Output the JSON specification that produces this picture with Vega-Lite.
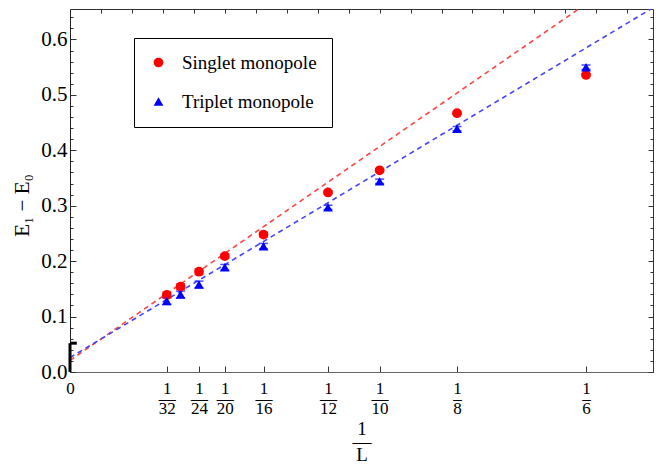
{
  "$schema": "https://vega.github.io/schema/vega-lite/v6.json",
  "width": 583,
  "height": 363,
  "autosize": {"type": "none"},
  "padding": {"left": 70, "top": 9, "right": 3, "bottom": 98},
  "background": "white",
  "config": {
    "font": "Liberation Serif",
    "view": {"stroke": null},
    "axis": {"grid": false, "labelFont": "Liberation Serif", "titleFont": "Liberation Serif", "labelColor": "black", "titleColor": "black", "titleFontWeight": "normal", "domainColor": "#555555", "tickColor": "#333333"},
    "legend": {"labelFont": "Liberation Serif"}
  },
  "datasets": {
    "pts": [
      {"invL": 0.03125, "gap": 0.139, "err": 0.005, "series": "Singlet monopole"},
      {"invL": 0.035714, "gap": 0.154, "err": 0.005, "series": "Singlet monopole"},
      {"invL": 0.041667, "gap": 0.181, "err": 0.005, "series": "Singlet monopole"},
      {"invL": 0.05, "gap": 0.209, "err": 0.004, "series": "Singlet monopole"},
      {"invL": 0.0625, "gap": 0.248, "err": 0.004, "series": "Singlet monopole"},
      {"invL": 0.083333, "gap": 0.324, "err": 0.003, "series": "Singlet monopole"},
      {"invL": 0.1, "gap": 0.364, "err": 0.003, "series": "Singlet monopole"},
      {"invL": 0.125, "gap": 0.467, "err": 0.002, "series": "Singlet monopole"},
      {"invL": 0.166667, "gap": 0.536, "err": 0.002, "series": "Singlet monopole"},
      {"invL": 0.03125, "gap": 0.128, "err": 0.006, "series": "Triplet monopole"},
      {"invL": 0.035714, "gap": 0.140, "err": 0.006, "series": "Triplet monopole"},
      {"invL": 0.041667, "gap": 0.158, "err": 0.006, "series": "Triplet monopole"},
      {"invL": 0.05, "gap": 0.189, "err": 0.005, "series": "Triplet monopole"},
      {"invL": 0.0625, "gap": 0.227, "err": 0.005, "series": "Triplet monopole"},
      {"invL": 0.083333, "gap": 0.297, "err": 0.004, "series": "Triplet monopole"},
      {"invL": 0.1, "gap": 0.344, "err": 0.004, "series": "Triplet monopole"},
      {"invL": 0.125, "gap": 0.439, "err": 0.004, "series": "Triplet monopole"},
      {"invL": 0.166667, "gap": 0.550, "err": 0.004, "series": "Triplet monopole"}
    ],
    "fits": [
      {"invL": 0, "gap": 0.021, "series": "Singlet monopole"},
      {"invL": 0.17, "gap": 0.677, "series": "Singlet monopole"},
      {"invL": 0, "gap": 0.026, "series": "Triplet monopole"},
      {"invL": 0.19, "gap": 0.663, "series": "Triplet monopole"}
    ],
    "bracket": [
      {"invL": 0, "invL2": 0, "gap": 0, "gap2": 0.052},
      {"invL": 0, "invL2": 0.0022, "gap": 0.052, "gap2": 0.052}
    ]
  },
  "layer": [
    {
      "data": {"name": "fits"},
      "transform": [{"filter": "datum.series == 'Singlet monopole'"}],
      "mark": {"type": "line", "strokeDash": [5, 4], "strokeWidth": 1.6, "clip": true, "color": "#ff4444"},
      "encoding": {
        "x": {"field": "invL", "type": "quantitative", "scale": {"domain": [0, 0.1883], "nice": false, "zero": false},
          "axis": {"orient": "top", "title": null, "labels": false, "values": [0.01,0.02,0.03,0.04,0.05,0.06,0.07,0.08,0.09,0.1,0.11,0.12,0.13,0.14,0.15,0.16,0.17,0.18], "tickSize": -4, "domainColor": "#333333"}},
        "y": {"field": "gap", "type": "quantitative", "scale": {"domain": [0, 0.655], "nice": false, "zero": false},
          "axis": {"orient": "right", "title": null, "labels": false, "values": [0,0.02,0.04,0.06,0.08,0.1,0.12,0.14,0.16,0.18,0.2,0.22,0.24,0.26,0.28,0.3,0.32,0.34,0.36,0.38,0.4,0.42,0.44,0.46,0.48,0.5,0.52,0.54,0.56,0.58,0.6,0.62,0.64],
            "tickSize": {"condition": {"test": "abs(datum.value*10 - round(datum.value*10)) < 0.001", "value": -5}, "value": -3}, "domainColor": "#333333"}}
      }
    },
    {
      "data": {"name": "fits"},
      "transform": [{"filter": "datum.series == 'Triplet monopole'"}],
      "mark": {"type": "line", "strokeDash": [5, 4], "strokeWidth": 1.6, "clip": true, "color": "#4444ff"},
      "encoding": {
        "x": {"field": "invL", "type": "quantitative", "axis": null},
        "y": {"field": "gap", "type": "quantitative", "axis": null}
      }
    },
    {
      "data": {"name": "bracket"},
      "mark": {"type": "rule", "color": "black", "strokeWidth": 3},
      "encoding": {
        "x": {"field": "invL", "type": "quantitative", "axis": null},
        "x2": {"field": "invL2"},
        "y": {"field": "gap", "type": "quantitative", "axis": null},
        "y2": {"field": "gap2"}
      }
    },
    {
      "data": {"name": "pts"},
      "transform": [{"filter": "datum.series == 'Singlet monopole'"}],
      "mark": {"type": "errorbar", "ticks": {"size": 9}, "thickness": 1.5, "color": "#ff0000"},
      "encoding": {
        "x": {"field": "invL", "type": "quantitative", "axis": null},
        "y": {"field": "gap", "type": "quantitative", "axis": null},
        "yError": {"field": "err"}
      }
    },
    {
      "data": {"name": "pts"},
      "transform": [{"filter": "datum.series == 'Triplet monopole'"}],
      "mark": {"type": "errorbar", "ticks": {"size": 9}, "thickness": 1.5, "color": "#0000ff"},
      "encoding": {
        "x": {"field": "invL", "type": "quantitative", "axis": null},
        "y": {"field": "gap", "type": "quantitative", "axis": null},
        "yError": {"field": "err"}
      }
    },
    {
      "data": {"name": "pts"},
      "mark": {"type": "point", "filled": true, "opacity": 1, "size": 95},
      "encoding": {
        "x": {"field": "invL", "type": "quantitative",
          "axis": {"orient": "bottom", "values": [0, 0.03125, 0.041667, 0.05, 0.0625, 0.083333, 0.1, 0.125, 0.166667],
            "labelExpr": "datum.value == 0 ? '0' : ['1', datum.value > 0.11 ? '–' : '—', format(round(1/datum.value), 'd')]",
            "labelFontSize": 17, "labelLineHeight": 10, "labelPadding": 14, "tickSize": -6, "labelFlush": false, "labelOverlap": false, "domainColor": "#666666",
            "title": ["1", "—", "L"], "titleFontSize": 19, "titleLineHeight": 13, "titlePadding": 3}},
        "y": {"field": "gap", "type": "quantitative",
          "axis": {"orient": "left", "values": [0,0.02,0.04,0.06,0.08,0.1,0.12,0.14,0.16,0.18,0.2,0.22,0.24,0.26,0.28,0.3,0.32,0.34,0.36,0.38,0.4,0.42,0.44,0.46,0.48,0.5,0.52,0.54,0.56,0.58,0.6,0.62,0.64],
            "labelExpr": "abs(datum.value*10 - round(datum.value*10)) < 0.001 ? format(datum.value, '.1f') : ''",
            "tickSize": {"condition": {"test": "abs(datum.value*10 - round(datum.value*10)) < 0.001", "value": -6}, "value": -3},
            "labelFontSize": 21, "labelPadding": 9, "labelFlush": false, "labelOverlap": false, "domainColor": "#222222",
            "title": "E₁ − E₀", "titleFontSize": 21, "titleY": 196, "titleX": -38}},
        "color": {"field": "series", "type": "nominal", "scale": {"domain": ["Singlet monopole", "Triplet monopole"], "range": ["#ff0000", "#0000ff"]},
          "legend": {"orient": "none", "legendX": 64, "legendY": 29, "title": null, "strokeColor": "black", "fillColor": "white", "padding": 15, "labelFontSize": 19, "symbolSize": 95, "rowPadding": 19, "labelOffset": 14, "symbolOffset": 0}},
        "shape": {"field": "series", "type": "nominal", "scale": {"domain": ["Singlet monopole", "Triplet monopole"], "range": ["circle", "triangle-up"]}}
      }
    }
  ],
  "resolve": {"axis": {"x": "independent", "y": "independent"}}
}
